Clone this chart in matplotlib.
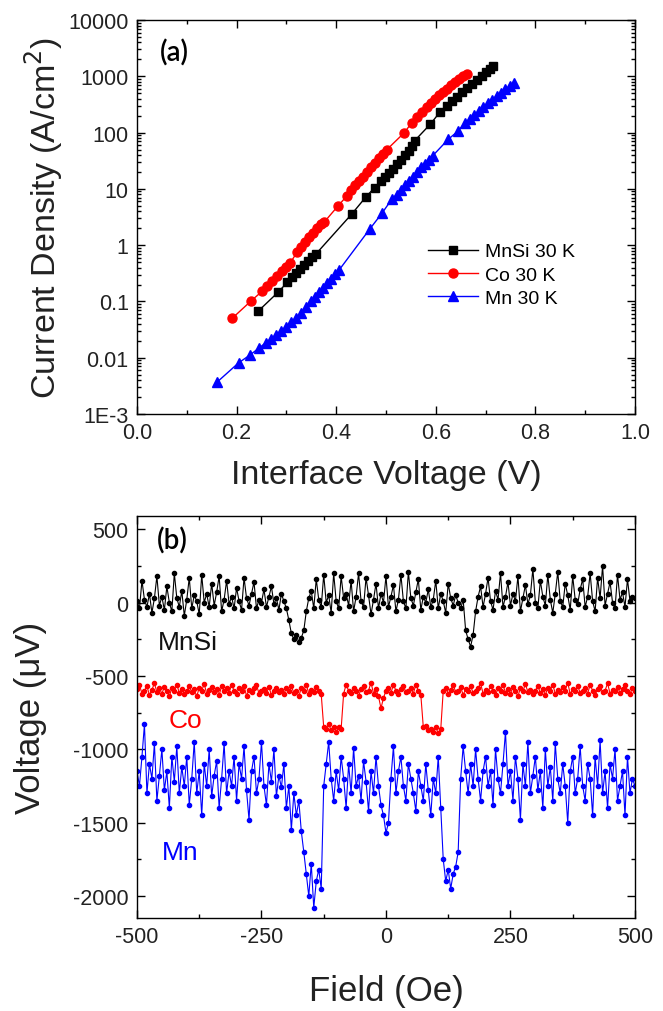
import numpy as np
import matplotlib
matplotlib.use("Agg")
import matplotlib.pyplot as plt
from matplotlib.ticker import MultipleLocator, LogLocator, NullFormatter

plt.rcParams['font.family'] = ['Liberation Sans', 'DejaVu Sans']
plt.rcParams['axes.unicode_minus'] = False

# ---------------- panel (a): current density vs interface voltage ----------------
mnsi_v = [0.244, 0.283, 0.302, 0.312, 0.320, 0.328, 0.336, 0.344, 0.352, 0.360,
          0.431, 0.460, 0.477, 0.490, 0.498, 0.506, 0.514, 0.522, 0.530, 0.538,
          0.546, 0.552, 0.558, 0.589, 0.608, 0.622, 0.632, 0.642, 0.652, 0.662,
          0.672, 0.682, 0.692, 0.700, 0.708, 0.715]
mnsi_j = [0.068, 0.145, 0.219, 0.269, 0.324, 0.380, 0.447, 0.525, 0.617, 0.708,
          3.55, 7.24, 10.5, 13.8, 16.2, 19.5, 22.9, 27.5, 33.1, 39.8,
          47.9, 57.5, 72.4, 141, 229, 295, 363, 437, 525, 631,
          741, 871, 1023, 1175, 1349, 1514]

co_v = [0.191, 0.229, 0.251, 0.262, 0.272, 0.282, 0.292, 0.300, 0.308, 0.322,
        0.330, 0.338, 0.346, 0.354, 0.362, 0.370, 0.376, 0.404, 0.422, 0.430,
        0.438, 0.446, 0.454, 0.462, 0.470, 0.478, 0.486, 0.494, 0.502, 0.537,
        0.552, 0.562, 0.572, 0.582, 0.590, 0.598, 0.606, 0.614, 0.622, 0.630,
        0.638, 0.646, 0.654, 0.662]
co_j = [0.050, 0.102, 0.151, 0.191, 0.234, 0.282, 0.347, 0.417, 0.490, 0.759,
        0.933, 1.15, 1.38, 1.66, 2.00, 2.34, 2.57, 5.01, 7.59, 9.55,
        11.5, 13.8, 16.6, 20.0, 24.0, 28.8, 34.7, 41.7, 50.1, 100,
        151, 191, 234, 288, 339, 389, 457, 525, 603, 692,
        794, 891, 1000, 1096]

mn_v = [0.161, 0.204, 0.227, 0.246, 0.259, 0.270, 0.280, 0.290, 0.300, 0.310,
        0.320, 0.330, 0.340, 0.350, 0.358, 0.366, 0.374, 0.382, 0.390, 0.398,
        0.406, 0.467, 0.493, 0.512, 0.522, 0.530, 0.538, 0.546, 0.554, 0.562,
        0.570, 0.578, 0.586, 0.594, 0.625, 0.645, 0.659, 0.668, 0.677, 0.686,
        0.695, 0.704, 0.713, 0.722, 0.731, 0.740, 0.749, 0.758]
mn_j = [0.0037, 0.0081, 0.0112, 0.0151, 0.0186, 0.0219, 0.0257, 0.0302, 0.0355, 0.0427,
        0.0513, 0.0631, 0.0794, 0.100, 0.120, 0.145, 0.174, 0.209, 0.251, 0.302,
        0.363, 1.91, 3.80, 6.61, 7.94, 9.55, 11.5, 13.8, 16.6, 20.0,
        24.0, 28.2, 33.1, 38.9, 75.9, 107, 151, 174, 204, 240,
        282, 331, 380, 447, 513, 589, 676, 776]

ytick_vals = [1e-3, 1e-2, 1e-1, 1, 10, 100, 1000, 10000]
ytick_text = ['1E-3', '0.01', '0.1', '1', '10', '100', '1000', '10000']

# ---------------- panel (b): voltage vs field (5 Oe steps) ----------------
field = np.arange(-500, 505, 5)

mnsi_uv = [10, -40, 150, 20, -30, 60, -70, 30, 180, -20, 40, -50, 110, 0, -60, 200, 30, -30, 80, -90,
           20, 170, -40, 50, 10, -80, 190, 0, 60, -30, 130, -20, 70, 180, -60, 20, 150, -10, 40, -40,
           100, 10, -50, 170, 30, -20, 60, 140, -40, 20, 0, 90, -30, 40, 110, -10, 30, -50, 60, 10,
           -40, -120, -210, -250, -220, -270, -240, -190, -60, 30, 80, -40, 160, 20, -30, 190, 0, 50, -70, 200,
           10, -40, 180, 30, 60, -20, 150, -60, 40, 200, 10, -30, 170, 50, -80, 20, 130, -40, 60, 0,
           180, -30, 40, 120, -60, 20, 190, 10, -40, 210, 30, -20, 70, 160, -50, 40, 0, 90, -30, 20,
           150, -40, 60, 10, -70, 130, 30, -20, 50, 0, -40, 20, -190, -250, -300, -220, -60, 40, 110, -30,
           60, 170, 10, -50, 80, 20, 200, -30, 40, 140, -20, 60, 10, 180, -60, 30, 120, -10, 50, 230,
           0, -40, 150, 40, -20, 190, 20, -70, 60, 210, 10, -30, 130, 50, -50, 180, 20, -10, 90, 160,
           -30, 40, 200, 10, -60, 170, 30, 250, -20, 60, 140, 0, -40, 190, 20, 70, -30, 160, 10, 40, 30]

co_uv = [-590, -560, -620, -600, -570, -630, -595, -550, -610, -585, -620, -575, -600, -640, -580, -605, -560, -615, -590, -625,
         -600, -570, -610, -590, -640, -580, -600, -555, -620, -595, -575, -610, -590, -630, -570, -605, -585, -615, -560, -600,
         -620, -585, -600, -570, -635, -595, -610, -580, -560, -620, -600, -590, -615, -575, -630, -600, -580, -610, -595, -620,
         -585, -605, -570, -615, -600, -640, -580, -600, -560, -620, -595, -610, -575, -600, -625, -850, -865, -830, -870, -845,
         -880, -850, -860, -620, -560, -600, -615, -580, -600, -635, -590, -570, -610, -600, -545, -620, -590, -640, -720, -650,
         -600, -580, -615, -560, -600, -625, -590, -570, -610, -600, -585, -620, -560, -600, -630, -850, -840, -870, -860, -880,
         -850, -890, -865, -600, -580, -620, -595, -560, -610, -600, -575, -630, -590, -605, -570, -615, -600, -585, -550, -620,
         -595, -610, -570, -600, -630, -585, -600, -560, -615, -590, -620, -575, -600, -640, -580, -605, -555, -610, -595, -620,
         -600, -570, -615, -590, -630, -580, -600, -560, -620, -595, -610, -575, -600, -545, -625, -590, -605, -570, -615, -600,
         -585, -620, -560, -600, -630, -590, -570, -610, -600, -550, -620, -595, -605, -575, -615, -590, -560, -600, -625, -580, -600]

mn_uv = [-1150, -1250, -1050, -830, -1300, -1100, -1200, -960, -1350, -1180, -1000, -1280, -1150, -1400, -1050, -1220, -980, -1300, -1120, -1250,
         -1050, -1380, -1200, -950, -1300, -1150, -1450, -1100, -1250, -1000, -1320, -1180, -1080, -1400, -1200, -960, -1300, -1150, -1250, -1050,
         -1350, -1100, -1200, -980, -1280, -1480, -1150, -1050, -1300, -1200, -950, -1250, -1380, -1100, -1220, -1000, -1320, -1180, -1260, -1100,
         -1400, -1250, -1550, -1300, -1450, -1350, -1560, -1700, -1850, -2000, -1780, -2080, -1900, -1820, -1950, -1250, -1100, -950, -1200, -1350,
         -1150, -1280, -1050, -1200, -1400, -1100, -1300, -990, -1250, -1180, -1350, -1080, -1220, -1420, -1150, -1300, -1050, -1250, -1380, -1450,
         -1570, -1500, -1200, -980, -1300, -1150, -1050, -1250, -1350, -1100, -1200, -1300, -1420, -1150, -1250, -1350, -1100, -1280, -1450, -1200,
         -1300, -1050, -1400, -1750, -1900, -1820, -1950, -1850, -1800, -1700, -1200, -980, -1150, -1300, -1100, -1250, -1000, -1200, -1350, -1150,
         -1050, -1250, -1150, -1380, -1000, -1200, -1300, -1100, -880, -1250, -1150, -1350, -1050, -1200, -1480, -1100, -1250, -950, -1300, -1180,
         -1050, -1280, -1150, -1400, -1000, -1250, -1120, -1350, -960, -1200, -1300, -1100, -1250, -1500, -1150, -1050, -1300, -1200, -980, -1250,
         -1350, -1100, -1200, -1450, -1050, -1250, -940, -1300, -1150, -1400, -1100, -1200, -1000, -1350, -1250, -1150, -1450, -1050, -1300, -1200, -1250]

RED = '#ff0000'
BLUE = '#0000ff'
TICK_FS = 15.5
LABEL_FS = 24.5

fig = plt.figure(figsize=(6.63, 10.12), dpi=100)
ax1 = fig.add_axes([0.2066, 0.5899, 0.7511, 0.3893])
ax2 = fig.add_axes([0.2066, 0.0919, 0.7511, 0.3972])

# ---- (a) ----
ax1.plot(mnsi_v, mnsi_j, color='black', marker='s', markersize=6, linewidth=1, label='MnSi 30 K')
ax1.plot(co_v, co_j, color=RED, marker='o', markersize=6.5, linewidth=1, label='Co 30 K')
ax1.plot(mn_v, mn_j, color=BLUE, marker='^', markersize=7, linewidth=1, label='Mn 30 K')
ax1.set_yscale('log')
ax1.set_xlim(0, 1.0)
ax1.set_ylim(1e-3, 1e4)
ax1.set_yticks(ytick_vals)
ax1.set_yticklabels(ytick_text)
ax1.yaxis.set_minor_locator(LogLocator(base=10, subs=np.arange(2, 10), numticks=20))
ax1.yaxis.set_minor_formatter(NullFormatter())
ax1.xaxis.set_minor_locator(MultipleLocator(0.1))
ax1.set_xticks([0.0, 0.2, 0.4, 0.6, 0.8, 1.0])
ax1.set_xticklabels(['0.0', '0.2', '0.4', '0.6', '0.8', '1.0'])
ax1.set_xlabel('Interface Voltage (V)', fontsize=LABEL_FS, color='#222222')
ax1.set_ylabel('Current Density (A/cm$^2$)', fontsize=LABEL_FS, color='#222222')
ax1.xaxis.set_label_coords(0.5, -0.115)
ax1.yaxis.set_label_coords(-0.145, 0.5)
ax1.text(0.045, 0.92, '(a)', transform=ax1.transAxes, fontsize=20, family='Lato',
         fontweight='semibold', ha='left', va='center')
ax1.legend(loc='center left', bbox_to_anchor=(0.584, 0.353), frameon=False, fontsize=14,
           handlelength=2.6, handletextpad=0.35, labelspacing=0.3, borderpad=0,
           borderaxespad=0, numpoints=1)

# ---- (b) ----
ax2.plot(field, mnsi_uv, color='black', marker='o', markersize=3, linewidth=0.8)
ax2.plot(field, co_uv, color=RED, marker='o', markersize=3, linewidth=0.8)
ax2.plot(field, mn_uv, color=BLUE, marker='o', markersize=3, linewidth=0.8)
ax2.set_xlim(-500, 500)
ax2.set_ylim(-2150, 590)
ax2.xaxis.set_major_locator(MultipleLocator(250))
ax2.xaxis.set_minor_locator(MultipleLocator(125))
ax2.yaxis.set_major_locator(MultipleLocator(500))
ax2.yaxis.set_minor_locator(MultipleLocator(250))
ax2.set_xlabel('Field (Oe)', fontsize=LABEL_FS + 0.5, color='#222222')
ax2.set_ylabel('Voltage (μV)', fontsize=LABEL_FS + 0.5, color='#222222')
ax2.xaxis.set_label_coords(0.5, -0.14)
ax2.yaxis.set_label_coords(-0.18, 0.5)
ax2.text(0.04, 0.94, '(b)', transform=ax2.transAxes, fontsize=20, family='Lato',
         fontweight='semibold', ha='left', va='center')
ax2.text(-458, -270, 'MnSi', fontsize=19, color='#111111', ha='left', va='center')
ax2.text(-436, -800, 'Co', fontsize=19, color=RED, ha='left', va='center')
ax2.text(-450, -1700, 'Mn', fontsize=19, color=BLUE, ha='left', va='center')

for ax in (ax1, ax2):
    ax.tick_params(which='both', direction='in', top=True, right=True, labelsize=TICK_FS,
                   labelcolor='#222222', width=1)
    ax.tick_params(which='major', length=6, pad=6)
    ax.tick_params(which='minor', length=3)
    for s in ax.spines.values():
        s.set_linewidth(1)

fig.savefig('out.png', dpi=100)
